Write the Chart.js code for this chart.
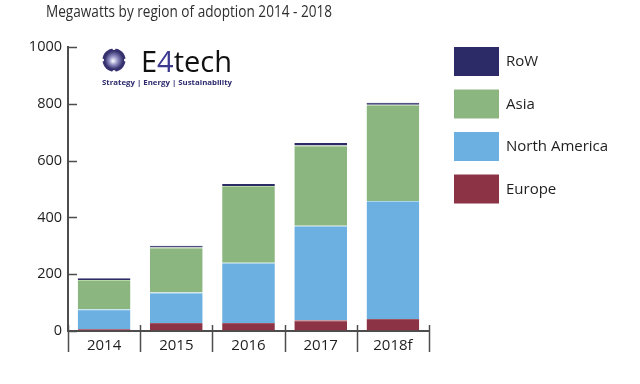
<!DOCTYPE html>
<html><head><meta charset="utf-8">
<script src="https://cdn.jsdelivr.net/npm/chart.js@4/dist/chart.umd.min.js"></script>
<style>html,body{margin:0;padding:0;background:#fff}#wrap{width:640px;height:384px;position:relative}</style>
</head><body><div id="wrap"><canvas id="c" width="640" height="384"></canvas></div>
<script>
const categories = ['2014', '2015', '2016', '2017', '2018f'];
const europe = [7, 28, 28, 38, 42];
const northAmerica = [70, 108, 212, 333, 416];
const asia = [103, 158, 271, 282, 339];
const restOfWorld = [6, 6, 7, 9, 7];
const yTickValues = [0, 200, 400, 600, 800, 1000];
const titleText = 'Megawatts by region of adoption 2014 - 2018';

const FONT = "'Open Sans', 'Noto Sans', sans-serif";
const AXIS = '#4d4d4d';

function fitText(ctx, text, x, y, width) {
  const tw = ctx.measureText(text).width;
  ctx.save();
  ctx.translate(x, y);
  ctx.scale(width / tw, 1);
  ctx.fillText(text, 0, 0);
  ctx.restore();
}

const decorations = {
  id: 'decorations',
  afterDraw(chart) {
    const ctx = chart.ctx;
    const x = chart.scales.x, y = chart.scales.y;
    ctx.save();
    ctx.strokeStyle = AXIS; ctx.lineWidth = 1.5;
    yTickValues.forEach(v => {
      const py = Math.round(y.getPixelForValue(v)) + 0.5;
      ctx.beginPath(); ctx.moveTo(x.left, py); ctx.lineTo(x.left + 9, py); ctx.stroke();
    });
    const half = (x.getPixelForValue(1) - x.getPixelForValue(0)) / 2;
    for (let i = 0; i <= categories.length; i++) {
      const px = Math.round(x.getPixelForValue(i) - half) + 0.5;
      ctx.beginPath(); ctx.moveTo(px, y.bottom - 6); ctx.lineTo(px, y.bottom + 21); ctx.stroke();
    }
    // title
    ctx.fillStyle = '#2e2e2e';
    ctx.font = '15.5px ' + FONT;
    ctx.textAlign = 'left'; ctx.textBaseline = 'alphabetic';
    fitText(ctx, titleText, 46, 17, 286);
    // legend
    const ds = chart.data.datasets.slice().reverse();
    ds.forEach((d, i) => {
      const top = 47 + i * 42.5;
      ctx.fillStyle = d.backgroundColor;
      ctx.fillRect(454, top, 45, 29);
      ctx.fillStyle = '#1e1e1e';
      ctx.font = '15px ' + FONT;
      ctx.textBaseline = 'middle';
      ctx.fillText(d.label, 506, top + 15);
    });
    // logo
    const cx = 114, cy = 60;
    ctx.fillStyle = '#35326f';
    ctx.beginPath(); ctx.arc(cx, cy, 11.5, 0, Math.PI * 2); ctx.fill();
    const g = ctx.createRadialGradient(cx - 1, cy + 1, 0.5, cx, cy, 9.5);
    g.addColorStop(0, '#f4f4fb'); g.addColorStop(0.45, '#8d8bc0'); g.addColorStop(1, '#2d2a66');
    ctx.fillStyle = g;
    ctx.beginPath(); ctx.arc(cx, cy, 9.5, 0, Math.PI * 2); ctx.fill();
    ctx.fillStyle = '#fff';
    [[0, -11.5], [0, 11.5], [-11.5, 0], [11.5, 0]].forEach(([dx, dy]) => {
      ctx.beginPath(); ctx.arc(cx + dx, cy + dy, 1.6, 0, Math.PI * 2); ctx.fill();
    });
    ctx.textBaseline = 'alphabetic';
    ctx.font = '29px ' + FONT;
    ctx.fillStyle = '#111';
    ctx.fillText('E', 141, 72);
    let w = ctx.measureText('E').width;
    ctx.fillStyle = '#3b3990';
    ctx.fillText('4', 141 + w, 72);
    w += ctx.measureText('4').width;
    ctx.fillStyle = '#111';
    ctx.fillText('tech', 141 + w, 72);
    ctx.font = 'bold 7px ' + FONT;
    ctx.fillStyle = '#2d2a6e';
    fitText(ctx, 'Strategy | Energy | Sustainability', 102, 85, 130);
    ctx.restore();
  }
};

const seg = (label, data, color, edge) => ({
  label, data, backgroundColor: color,
  borderColor: edge, borderWidth: {top: 1, left: 0, right: 0, bottom: 0}, borderSkipped: false,
  barPercentage: 0.73, categoryPercentage: 1.0
});

new Chart(document.getElementById('c'), {
  type: 'bar',
  data: {
    labels: categories,
    datasets: [
      seg('Europe', europe, '#8c3446', '#a35563'),
      seg('North America', northAmerica, '#6bb0e0', '#a9d4ee'),
      seg('Asia', asia, '#8cb67f', '#b8d9a4'),
      seg('RoW', restOfWorld, '#2c2b68', '#2c2b68')
    ]
  },
  options: {
    responsive: false, animation: false,
    layout: {padding: {top: 47, right: 211, bottom: 23, left: 0}},
    plugins: {legend: {display: false}, tooltip: {enabled: false}},
    scales: {
      x: {
        stacked: true,
        grid: {drawOnChartArea: false, drawTicks: false, color: 'rgba(0,0,0,0)'},
        border: {display: true, color: AXIS, width: 2},
        ticks: {font: {family: FONT, size: 15}, color: '#1e1e1e', padding: 6},
        afterFit: s => { s.height = 30; }
      },
      y: {
        stacked: true, min: 0, max: 1000,
        grid: {drawOnChartArea: false, drawTicks: false, color: 'rgba(0,0,0,0)'},
        border: {display: true, color: AXIS, width: 2},
        ticks: {stepSize: 200, font: {family: FONT, size: 14.5}, color: '#1e1e1e', padding: 6,
          callback: v => String(v)},
        afterFit: s => { s.width = 68; }
      }
    }
  },
  plugins: [decorations]
});
</script>
</body></html>
